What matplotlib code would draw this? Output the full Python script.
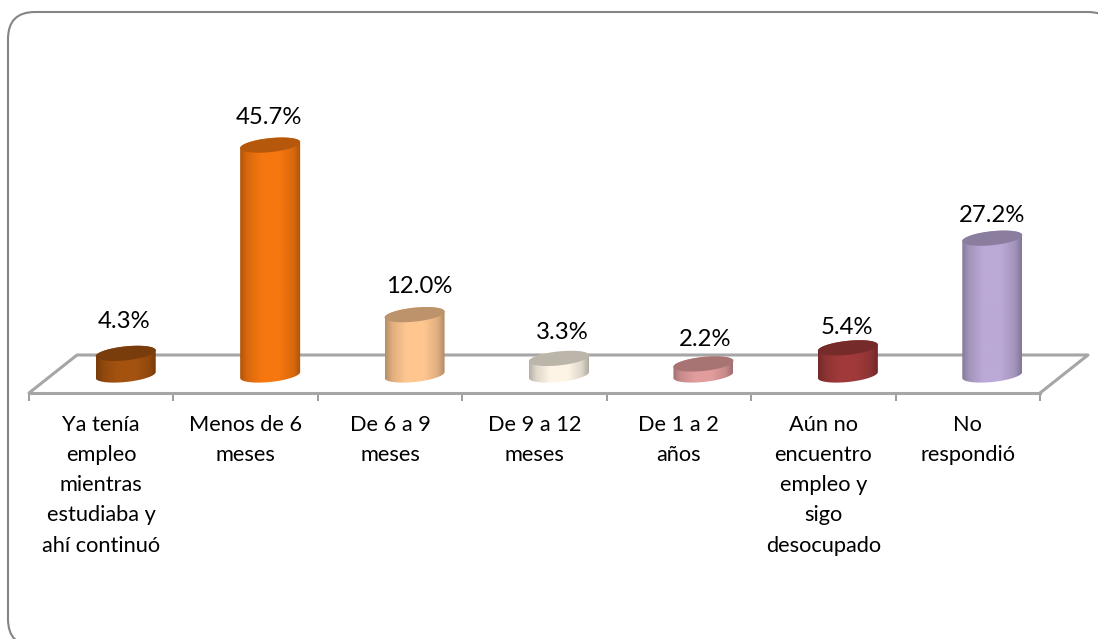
import numpy as np
import matplotlib
matplotlib.use("Agg")
import matplotlib.pyplot as plt
from matplotlib.patches import FancyBboxPatch, Polygon
from matplotlib.colors import LinearSegmentedColormap, to_rgb

categories = ["Ya tenía\nempleo\nmientras\nestudiaba y\nahí continuó", "Menos de 6\nmeses", "De 6 a 9\nmeses",
              "De 9 a 12\nmeses", "De 1 a 2\naños", "Aún no\nencuentro\nempleo y\nsigo\ndesocupado", "No\nrespondió"]
values = [4.3, 45.7, 12.0, 3.3, 2.2, 5.4, 27.2]
colors = ["#a4520f", "#f6770f", "#ffc690", "#fdf4e6", "#e29c9c", "#a03a3a", "#bba9d6"]
label_dx = [-2, -1, 5, 3, 2, -1, 0]
label_dy = [31.5, 27.5, 28.5, 25.5, 24.5, 20.5, 22.5]

W, H = 1098, 639
plt.rcParams["font.family"] = ["Lato", "DejaVu Sans"]
fig = plt.figure(figsize=(W/100, H/100), dpi=100)
fig.patch.set_facecolor("white")

# rounded frame (runs past the right and bottom edges of the picture)
bg = fig.add_axes([0, 0, 1, 1]); bg.set_xlim(0, W); bg.set_ylim(H, 0); bg.axis("off")
r = 27
bg.add_patch(FancyBboxPatch((8+r, 12+r), 1115-8-2*r, 646-12-2*r, boxstyle=f"round,pad={r},rounding_size={r}",
                            fc="white", ec="#858585", lw=1.5, clip_on=True))

# axes: bottom spine is the front edge of the floor
L, R, B, T = 29, 1040, 393, 100
ax = fig.add_axes([L/W, 1-B/H, (R-L)/W, (B-T)/H])
ax.patch.set_alpha(0)
px_y = 5.03
xlo, xhi = -0.5, 6.5
y0 = -18/px_y
ylo, yhi = y0, y0 + (B-T)/px_y
ax.set_xlim(xlo, xhi); ax.set_ylim(ylo, yhi)
sx = (xhi-xlo)/(R-L)   # data per px
sy = 1/px_y
dx = 24.5*sx

# floor
GREY = "#a6a6a6"
fx = [xlo, xlo+48*sx, xhi+48*sx, xhi]
fy = [ylo, ylo+38*sy, ylo+38*sy, ylo]
ax.plot(fx, fy, color=GREY, lw=2.2, clip_on=False, zorder=1, solid_capstyle="round")

for s in ("left", "right", "top"):
    ax.spines[s].set_visible(False)
ax.spines["bottom"].set_color(GREY); ax.spines["bottom"].set_linewidth(2.2)
ax.set_yticks([])
ax.set_xticks(np.arange(-0.5, 7, 1))
ax.set_xticklabels([])
ax.tick_params(axis="x", length=6, width=1.2, color="#8c8c8c")
ax.set_xticks(range(7), minor=True)
ax.set_xticklabels(categories, minor=True, fontsize=15.7, color="black", linespacing=1.63)
ax.tick_params(axis="x", which="minor", length=0, pad=16)

a, b, tilt = 30, 7.0, 3.0
t = np.linspace(0, 2*np.pi, 80)

for i, (v, c) in enumerate(zip(values, colors)):
    cx = i + dx
    rgb = np.array(to_rgb(c))
    cmap = LinearSegmentedColormap.from_list(
        "c", [(0, rgb*0.72), (0.12, rgb*0.88), (0.35, rgb), (0.65, rgb), (0.88, rgb*0.88), (1, rgb*0.70)])
    e_x = cx + a*sx*np.cos(t)
    e_dy = (b*np.sin(t) + tilt*np.cos(t))*sy
    tb = np.linspace(np.pi, 2*np.pi, 40)
    tt = np.linspace(0, np.pi, 40)
    bx = cx + a*sx*np.cos(tb); by = (b*np.sin(tb) + tilt*np.cos(tb))*sy
    ux = cx + a*sx*np.cos(tt); uy = v + (b*np.sin(tt) + tilt*np.cos(tt))*sy
    body = Polygon(np.c_[np.r_[bx, ux], np.r_[by, uy]], closed=True, fc="none", ec="none", transform=ax.transData)
    ax.add_patch(body)
    grad = np.linspace(0, 1, 128).reshape(1, -1)
    im = ax.imshow(grad, cmap=cmap, extent=[cx-a*sx, cx+a*sx, -10, v+10], aspect="auto", zorder=3, interpolation="bilinear")
    im.set_clip_path(body)
    ax.add_patch(Polygon(np.c_[e_x, v + e_dy], closed=True, fc=rgb*0.74, ec="none", zorder=4))
    ax.text(cx + label_dx[i]*sx, v + label_dy[i]*sy, f"{v:.1f}%", ha="center", va="center",
            fontsize=17.2, color="black", zorder=5, clip_on=False)

ax.set_xlim(xlo, xhi); ax.set_ylim(ylo, yhi)
fig.savefig("out.png", dpi=100)
